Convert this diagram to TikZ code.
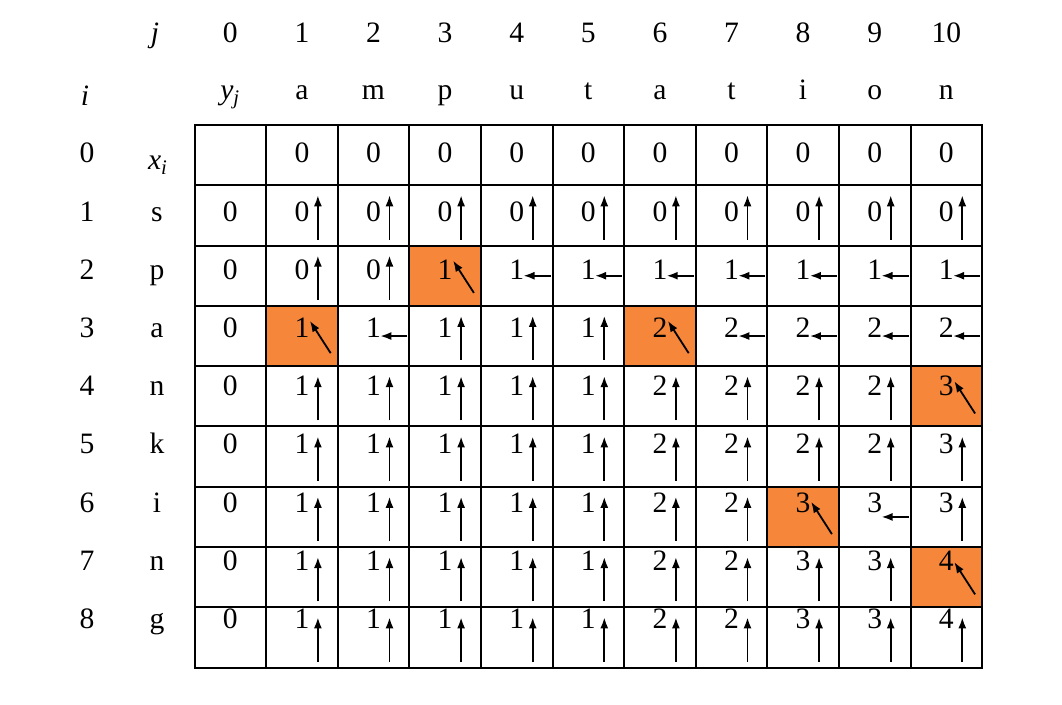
\documentclass[tikz,border=0pt]{standalone}
\usepackage{fontspec}
\setmainfont{Liberation Serif}
\usetikzlibrary{arrows.meta,positioning}
\definecolor{Orange}{RGB}{245,134,58}

\begin{document}
\begin{tikzpicture}[x=0.5pt,y=0.5pt, >={Latex[length=5.5pt,width=4pt]},
	   every node/.style={font=\fontsize{14.8}{17}\selectfont, inner sep=0pt},
	   cell/.style={rectangle, draw, line width=1pt, minimum width=35.8pt, minimum height=30.15pt},
	   tone n/.style={}, tone u/.style={}, tone l/.style={},
	   tone d/.style={fill=Orange},
	   entry/.style={anchor=base},
	   trace/.style={->, line width=0.9pt}]
	\useasboundingbox (0,0) rectangle (1062,705);
	%% Headings
	\node [entry] (j) at (155,662) {\itshape j};
	\node [entry] (i) at (85,599) {\itshape i};
	\node [entry] (yj) at (230.3,605) {\itshape y\textsubscript{j}};
	\node [entry] (xi) at (158,535) {\itshape x\textsubscript{i}};
	\node [entry] (col-0) at (230.3,662) {0};
	\foreach \ch [count=\k] in {a,m,p,u,t,a,t,i,o,n} {
		\node [entry] (col-\k) at ({230.3+71.6*\k},662) {\k};
		\node [entry] (top-\k) at ({230.3+71.6*\k},605) {\ch};
	}
	\node [entry] (row-0) at (87,542) {0};
	\foreach \ch [count=\r] in {s,p,a,n,k,i,n,g} {
		\node [entry] (row-\r) at (87,{542-58.2*\r}) {\r};
		\node [entry] (side-\r) at (157,{542-58.2*\r}) {\ch};
	}

	%% Row 0
	\foreach \k in {0,...,10}
		\node [cell] (c-0-\k) at ({230.3+71.6*\k},549.85) {};
	\foreach \k in {1,...,10}
		\node [entry] (n-0-\k) at ({230.3+71.6*\k},542) {0};

	%% Rows 1 to 8
	\foreach \r/\vals in {
		1/{0/n,0/u,0/u,0/u,0/u,0/u,0/u,0/u,0/u,0/u,0/u},
		2/{0/n,0/u,0/u,1/d,1/l,1/l,1/l,1/l,1/l,1/l,1/l},
		3/{0/n,1/d,1/l,1/u,1/u,1/u,2/d,2/l,2/l,2/l,2/l},
		4/{0/n,1/u,1/u,1/u,1/u,1/u,2/u,2/u,2/u,2/u,3/d},
		5/{0/n,1/u,1/u,1/u,1/u,1/u,2/u,2/u,2/u,2/u,3/u},
		6/{0/n,1/u,1/u,1/u,1/u,1/u,2/u,2/u,3/d,3/l,3/u},
		7/{0/n,1/u,1/u,1/u,1/u,1/u,2/u,2/u,3/u,3/u,4/d},
		8/{0/n,1/u,1/u,1/u,1/u,1/u,2/u,2/u,3/u,3/u,4/u}} {
		\foreach \v/\d [count=\k from 0] in \vals {
			\node [cell, tone \d] (c-\r-\k) at ({230.3+71.6*\k},{549.85-60.3*\r}) {};
			\node [entry] (n-\r-\k) at ({230.3+71.6*\k},{542-58.2*\r}) {\v};
			\if u\d
				\draw [trace] ([shift={(16,7)}]c-\r-\k.south) -- ([shift={(16,-11)}]c-\r-\k.north);
			\fi
			\if l\d
				\draw [trace] ([xshift=-1.5pt]c-\r-\k.east) -- ([xshift=-0.5pt]n-\r-\k.east |- c-\r-\k.center);
			\fi
			\if d\d
				\draw [trace] ([shift={(-8,14)}]c-\r-\k.south east) -- ([shift={(8,-16)}]c-\r-\k.north);
			\fi
		}
	}
\end{tikzpicture}
\end{document}
